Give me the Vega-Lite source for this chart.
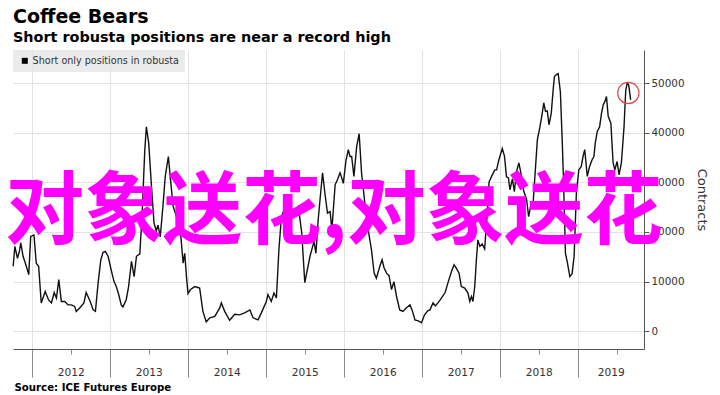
{
  "$schema": "https://vega.github.io/schema/vega-lite/v6.json",
  "autosize": {"type": "none"},
  "width": 631,
  "height": 299,
  "padding": {"left": 13, "top": 50, "right": 76, "bottom": 46},
  "background": "#ffffff",
  "config": {
    "view": {"stroke": null},
    "font": "DejaVu Sans"
  },
  "title": {
    "text": "Coffee Bears",
    "subtitle": "Short robusta positions are near a record high",
    "anchor": "start",
    "frame": "group",
    "font": "DejaVu Sans",
    "fontSize": 19,
    "fontWeight": "bold",
    "color": "#000000",
    "subtitleFont": "DejaVu Sans",
    "subtitleFontSize": 14.4,
    "subtitleFontWeight": "bold",
    "subtitleColor": "#000000",
    "subtitlePadding": 4,
    "offset": 6
  },
  "datasets": {
    "positions": [
      {"year": 2011.762, "contracts": 13100}, {"year": 2011.784, "contracts": 17100}, {"year": 2011.817, "contracts": 14700},
      {"year": 2011.842, "contracts": 16100}, {"year": 2011.860, "contracts": 17800}, {"year": 2011.889, "contracts": 15100},
      {"year": 2011.931, "contracts": 13100}, {"year": 2011.962, "contracts": 11400}, {"year": 2011.987, "contracts": 19100},
      {"year": 2012.029, "contracts": 19400}, {"year": 2012.058, "contracts": 13700}, {"year": 2012.089, "contracts": 13100},
      {"year": 2012.122, "contracts": 5700}, {"year": 2012.173, "contracts": 8000}, {"year": 2012.216, "contracts": 6300},
      {"year": 2012.253, "contracts": 5700}, {"year": 2012.288, "contracts": 7800}, {"year": 2012.317, "contracts": 6700},
      {"year": 2012.347, "contracts": 10400}, {"year": 2012.380, "contracts": 6000}, {"year": 2012.424, "contracts": 6000},
      {"year": 2012.466, "contracts": 5300}, {"year": 2012.508, "contracts": 5300}, {"year": 2012.551, "contracts": 5000},
      {"year": 2012.571, "contracts": 4000}, {"year": 2012.615, "contracts": 4700}, {"year": 2012.669, "contracts": 5700},
      {"year": 2012.698, "contracts": 7800}, {"year": 2012.742, "contracts": 6300}, {"year": 2012.788, "contracts": 4300},
      {"year": 2012.817, "contracts": 4000}, {"year": 2012.851, "contracts": 9700}, {"year": 2012.886, "contracts": 14400},
      {"year": 2012.915, "contracts": 15900}, {"year": 2012.944, "contracts": 16100}, {"year": 2012.979, "contracts": 15100},
      {"year": 2013.021, "contracts": 12200}, {"year": 2013.055, "contracts": 10000}, {"year": 2013.084, "contracts": 9000},
      {"year": 2013.115, "contracts": 7400}, {"year": 2013.148, "contracts": 5300}, {"year": 2013.169, "contracts": 4900},
      {"year": 2013.211, "contracts": 6300}, {"year": 2013.242, "contracts": 9000}, {"year": 2013.279, "contracts": 14100},
      {"year": 2013.313, "contracts": 11000}, {"year": 2013.343, "contracts": 15100}, {"year": 2013.386, "contracts": 15600},
      {"year": 2013.415, "contracts": 23500}, {"year": 2013.450, "contracts": 36600}, {"year": 2013.470, "contracts": 41200},
      {"year": 2013.500, "contracts": 37900}, {"year": 2013.534, "contracts": 29500}, {"year": 2013.568, "contracts": 21800},
      {"year": 2013.597, "contracts": 20200}, {"year": 2013.619, "contracts": 21400}, {"year": 2013.648, "contracts": 19000},
      {"year": 2013.682, "contracts": 25100}, {"year": 2013.712, "contracts": 31200}, {"year": 2013.752, "contracts": 35200},
      {"year": 2013.784, "contracts": 29800}, {"year": 2013.814, "contracts": 25100}, {"year": 2013.843, "contracts": 23700},
      {"year": 2013.877, "contracts": 21800}, {"year": 2013.912, "contracts": 19100}, {"year": 2013.941, "contracts": 13700},
      {"year": 2013.962, "contracts": 15700}, {"year": 2013.985, "contracts": 10800}, {"year": 2014.004, "contracts": 7600},
      {"year": 2014.036, "contracts": 8400}, {"year": 2014.090, "contracts": 9000}, {"year": 2014.153, "contracts": 8700},
      {"year": 2014.195, "contracts": 4000}, {"year": 2014.237, "contracts": 1900}, {"year": 2014.284, "contracts": 2700},
      {"year": 2014.347, "contracts": 3000}, {"year": 2014.411, "contracts": 4700}, {"year": 2014.431, "contracts": 5700},
      {"year": 2014.474, "contracts": 4000}, {"year": 2014.538, "contracts": 2200}, {"year": 2014.602, "contracts": 3400},
      {"year": 2014.665, "contracts": 3300}, {"year": 2014.729, "contracts": 3700}, {"year": 2014.797, "contracts": 4300},
      {"year": 2014.838, "contracts": 2700}, {"year": 2014.902, "contracts": 2300}, {"year": 2014.944, "contracts": 3700},
      {"year": 2015.008, "contracts": 6000}, {"year": 2015.029, "contracts": 7400}, {"year": 2015.071, "contracts": 6000},
      {"year": 2015.106, "contracts": 7700}, {"year": 2015.137, "contracts": 6700}, {"year": 2015.169, "contracts": 16400},
      {"year": 2015.201, "contracts": 22900}, {"year": 2015.246, "contracts": 25100}, {"year": 2015.292, "contracts": 26500},
      {"year": 2015.355, "contracts": 23100}, {"year": 2015.419, "contracts": 25100}, {"year": 2015.462, "contracts": 19800},
      {"year": 2015.501, "contracts": 9800}, {"year": 2015.568, "contracts": 15100}, {"year": 2015.619, "contracts": 18100},
      {"year": 2015.644, "contracts": 15700}, {"year": 2015.673, "contracts": 22500}, {"year": 2015.704, "contracts": 27800},
      {"year": 2015.729, "contracts": 31900}, {"year": 2015.759, "contracts": 27800}, {"year": 2015.792, "contracts": 23800},
      {"year": 2015.826, "contracts": 24100}, {"year": 2015.848, "contracts": 20400}, {"year": 2015.890, "contracts": 29500},
      {"year": 2015.919, "contracts": 30500}, {"year": 2015.953, "contracts": 31900}, {"year": 2015.975, "contracts": 30900},
      {"year": 2015.995, "contracts": 29800}, {"year": 2016.030, "contracts": 34500}, {"year": 2016.059, "contracts": 36600},
      {"year": 2016.081, "contracts": 35200}, {"year": 2016.102, "contracts": 35200}, {"year": 2016.131, "contracts": 31200},
      {"year": 2016.166, "contracts": 37200}, {"year": 2016.198, "contracts": 39800}, {"year": 2016.229, "contracts": 31900},
      {"year": 2016.271, "contracts": 25800}, {"year": 2016.314, "contracts": 20400}, {"year": 2016.356, "contracts": 16400},
      {"year": 2016.390, "contracts": 11700}, {"year": 2016.419, "contracts": 10700}, {"year": 2016.463, "contracts": 13100},
      {"year": 2016.492, "contracts": 14400}, {"year": 2016.517, "contracts": 12800}, {"year": 2016.549, "contracts": 11700},
      {"year": 2016.581, "contracts": 11200}, {"year": 2016.613, "contracts": 8400}, {"year": 2016.644, "contracts": 10000},
      {"year": 2016.676, "contracts": 7100}, {"year": 2016.718, "contracts": 4300}, {"year": 2016.759, "contracts": 4000},
      {"year": 2016.808, "contracts": 4800}, {"year": 2016.850, "contracts": 5300}, {"year": 2016.881, "contracts": 4100},
      {"year": 2016.913, "contracts": 2300}, {"year": 2016.956, "contracts": 2100}, {"year": 2016.998, "contracts": 1700},
      {"year": 2017.036, "contracts": 3300}, {"year": 2017.078, "contracts": 4100}, {"year": 2017.106, "contracts": 4300},
      {"year": 2017.145, "contracts": 5700}, {"year": 2017.176, "contracts": 5100}, {"year": 2017.208, "contracts": 5700},
      {"year": 2017.246, "contracts": 6500}, {"year": 2017.300, "contracts": 7800}, {"year": 2017.341, "contracts": 10000},
      {"year": 2017.383, "contracts": 12100}, {"year": 2017.415, "contracts": 13400}, {"year": 2017.447, "contracts": 12600},
      {"year": 2017.479, "contracts": 11700}, {"year": 2017.508, "contracts": 9000}, {"year": 2017.552, "contracts": 8700},
      {"year": 2017.593, "contracts": 7700}, {"year": 2017.616, "contracts": 6000}, {"year": 2017.638, "contracts": 7000},
      {"year": 2017.657, "contracts": 6000}, {"year": 2017.680, "contracts": 9000}, {"year": 2017.701, "contracts": 14400},
      {"year": 2017.720, "contracts": 18400}, {"year": 2017.746, "contracts": 17100}, {"year": 2017.775, "contracts": 17600},
      {"year": 2017.807, "contracts": 16600}, {"year": 2017.836, "contracts": 22900}, {"year": 2017.864, "contracts": 30100},
      {"year": 2017.896, "contracts": 31200}, {"year": 2017.937, "contracts": 32500}, {"year": 2017.960, "contracts": 32500},
      {"year": 2017.989, "contracts": 34500}, {"year": 2018.033, "contracts": 36800}, {"year": 2018.061, "contracts": 35300},
      {"year": 2018.087, "contracts": 31100}, {"year": 2018.112, "contracts": 30900}, {"year": 2018.131, "contracts": 28500},
      {"year": 2018.163, "contracts": 30700}, {"year": 2018.188, "contracts": 28100}, {"year": 2018.214, "contracts": 32100},
      {"year": 2018.246, "contracts": 33900}, {"year": 2018.271, "contracts": 31900}, {"year": 2018.307, "contracts": 28300},
      {"year": 2018.345, "contracts": 26500}, {"year": 2018.371, "contracts": 23100}, {"year": 2018.396, "contracts": 25100},
      {"year": 2018.428, "contracts": 25700}, {"year": 2018.457, "contracts": 32500}, {"year": 2018.483, "contracts": 38600},
      {"year": 2018.514, "contracts": 41000}, {"year": 2018.542, "contracts": 43600}, {"year": 2018.565, "contracts": 46000},
      {"year": 2018.587, "contracts": 44300}, {"year": 2018.610, "contracts": 44400}, {"year": 2018.632, "contracts": 41600},
      {"year": 2018.661, "contracts": 43900}, {"year": 2018.687, "contracts": 49000}, {"year": 2018.702, "contracts": 51300},
      {"year": 2018.727, "contracts": 51700}, {"year": 2018.750, "contracts": 51900}, {"year": 2018.778, "contracts": 48200},
      {"year": 2018.801, "contracts": 38600}, {"year": 2018.820, "contracts": 29500}, {"year": 2018.843, "contracts": 15700},
      {"year": 2018.869, "contracts": 13700}, {"year": 2018.899, "contracts": 11000}, {"year": 2018.928, "contracts": 11600},
      {"year": 2018.954, "contracts": 15100}, {"year": 2018.983, "contracts": 27800}, {"year": 2019.014, "contracts": 32500},
      {"year": 2019.046, "contracts": 33200}, {"year": 2019.068, "contracts": 35200}, {"year": 2019.090, "contracts": 36600},
      {"year": 2019.123, "contracts": 31200}, {"year": 2019.153, "contracts": 33200}, {"year": 2019.183, "contracts": 34500},
      {"year": 2019.208, "contracts": 35200}, {"year": 2019.225, "contracts": 37900}, {"year": 2019.250, "contracts": 40200},
      {"year": 2019.281, "contracts": 41200}, {"year": 2019.305, "contracts": 43900}, {"year": 2019.327, "contracts": 45600},
      {"year": 2019.349, "contracts": 46300}, {"year": 2019.369, "contracts": 47300}, {"year": 2019.391, "contracts": 43300},
      {"year": 2019.425, "contracts": 41900}, {"year": 2019.454, "contracts": 33900}, {"year": 2019.476, "contracts": 32500},
      {"year": 2019.505, "contracts": 34200}, {"year": 2019.530, "contracts": 31500}, {"year": 2019.560, "contracts": 33900},
      {"year": 2019.594, "contracts": 41200}, {"year": 2019.616, "contracts": 48600}, {"year": 2019.636, "contracts": 50000},
      {"year": 2019.654, "contracts": 49600}, {"year": 2019.679, "contracts": 46600}
    ],
    "highlight": [
      {"year": 2019.649, "contracts": 48000}
    ]
  },
  "layer": [
    {
      "data": {"name": "positions"},
      "mark": {"type": "line", "strokeWidth": 1.4, "interpolate": "linear"},
      "encoding": {
        "x": {
          "field": "year",
          "type": "quantitative",
          "scale": {"domain": [2011.76, 2019.85], "nice": false, "zero": false},
          "axis": {
            "orient": "bottom",
            "values": [2011.75, 2012, 2012.25, 2012.5, 2012.75, 2013, 2013.25, 2013.5, 2013.75, 2014, 2014.25, 2014.5, 2014.75, 2015, 2015.25, 2015.5, 2015.75, 2016, 2016.25, 2016.5, 2016.75, 2017, 2017.25, 2017.5, 2017.75, 2018, 2018.25, 2018.5, 2018.75, 2019, 2019.25, 2019.5, 2019.75],
            "labelExpr": "datum.value % 1 == 0 ? format(datum.value, 'd') : ''",
            "labelOffset": {"condition": {"test": "datum.value == 2019", "value": 33}, "value": 39},
            "labelOverlap": false,
            "labelFlush": false,
            "labelBound": false,
            "labelFont": "DejaVu Sans",
            "labelFontSize": 10.6,
            "labelColor": "#333333",
            "labelBaseline": "top",
            "labelPadding": -10,
            "tickSize": {"condition": {"test": "datum.value % 1 == 0", "value": 28}, "value": 5},
            "tickColor": "#8a8a8a",
            "tickWidth": 1,
            "domain": true,
            "domainColor": "#555555",
            "domainWidth": 1,
            "grid": true,
            "gridColor": "#e2e2e2",
            "gridOpacity": {"condition": {"test": "datum.value % 1 == 0", "value": 1}, "value": 0},
            "title": "Source: ICE Futures Europe",
            "titleFont": "DejaVu Sans",
            "titleFontSize": 10.2,
            "titleFontWeight": "bold",
            "titleColor": "#000000",
            "titleAnchor": "start",
            "titleAlign": "left",
            "titleBaseline": "alphabetic",
            "titleX": 1,
            "titleY": 41
          }
        },
        "y": {
          "field": "contracts",
          "type": "quantitative",
          "scale": {"domain": [-3580, 56660], "nice": false, "zero": false},
          "axis": {
            "orient": "right",
            "values": [0, 5000, 10000, 15000, 20000, 25000, 30000, 35000, 40000, 45000, 50000, 55000],
            "labelExpr": "datum.value % 10000 == 0 ? format(datum.value, 'd') : ''",
            "labelFont": "DejaVu Sans",
            "labelFontSize": 10.4,
            "labelColor": "#333333",
            "labelPadding": 2,
            "tickSize": 5,
            "tickColor": "#555555",
            "domain": true,
            "domainColor": "#555555",
            "grid": true,
            "gridColor": "#e2e2e2",
            "gridOpacity": {"condition": {"test": "datum.value % 10000 == 0", "value": 1}, "value": 0},
            "title": "Contracts",
            "titleFont": "DejaVu Sans",
            "titleFontSize": 13,
            "titleFontWeight": "normal",
            "titleColor": "#333333",
            "titlePadding": 10
          }
        },
        "color": {
          "datum": "Short only positions in robusta",
          "type": "nominal",
          "scale": {"range": ["#111111"]},
          "legend": {
            "title": null,
            "orient": "top-left",
            "offset": 0,
            "padding": 6,
            "symbolOffset": 1,
            "fillColor": "rgba(228,228,228,0.75)",
            "symbolType": "square",
            "symbolSize": 36,
            "symbolFillColor": "#000000",
            "symbolStrokeWidth": 0,
            "labelFont": "DejaVu Sans",
            "labelFontSize": 9.6,
            "labelColor": "#333333",
            "labelOffset": 3
          }
        }
      }
    },
    {
      "data": {"name": "highlight"},
      "mark": {"type": "point", "shape": "circle", "filled": false, "stroke": "#e0474c", "strokeWidth": 1.2, "size": 455, "opacity": 1},
      "encoding": {
        "x": {"field": "year", "type": "quantitative"},
        "y": {"field": "contracts", "type": "quantitative"}
      }
    },
    {
      "data": {"values": [{"label": "对象送花,对象送花"}]},
      "mark": {"type": "text", "font": "Noto Sans CJK SC", "fontSize": 79, "fontWeight": "bold", "color": "#ff00ff", "align": "center", "baseline": "alphabetic"},
      "encoding": {
        "x": {"datum": 2015.876, "type": "quantitative"},
        "y": {"datum": 18700, "type": "quantitative"},
        "text": {"field": "label", "type": "nominal"}
      }
    }
  ]
}
